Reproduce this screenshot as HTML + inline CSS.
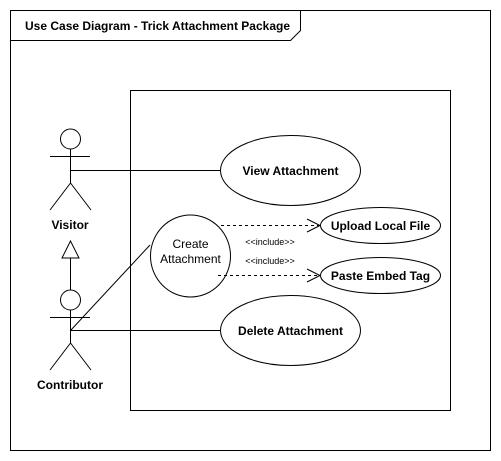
<!DOCTYPE html>
<html><head><style>body{margin:0;background:#fff}svg{display:block}</style></head><body>
<svg width="501" height="461" xmlns="http://www.w3.org/2000/svg" font-family="Liberation Sans, Arial, sans-serif" font-size="12" fill="none" stroke="#000">
<rect x="10.5" y="10.5" width="480" height="440" stroke-width="1"/>
<path d="M10.5 40.5 H290.5 L300.5 30.5 V10.5"/>
<text x="25" y="30" fill="#000" stroke="none" font-weight="bold">Use Case Diagram - Trick Attachment Package</text>
<rect x="130.5" y="90.5" width="320" height="320"/>
<!-- Visitor -->
<circle cx="70.5" cy="139" r="10"/>
<path d="M50 156.5 H90 M70.5 149 V183 L50 210 M70.5 183 L91 210"/>
<text x="70" y="229" text-anchor="middle" font-weight="bold" fill="#000" stroke="none">Visitor</text>
<path d="M70.5 170.5 H220"/>
<!-- generalization -->
<path d="M70.5 241 L62 258 H79 Z" fill="#fff"/>
<path d="M70.5 258 V290"/>
<!-- Contributor -->
<circle cx="70.5" cy="300" r="10"/>
<path d="M50 317.5 H90 M70.5 310 V343 L50 370 M70.5 343 L91 370"/>
<text x="70" y="389" text-anchor="middle" font-weight="bold" fill="#000" stroke="none">Contributor</text>
<path d="M70.5 330.5 H220 M70.5 330.5 L150 245"/>
<!-- use cases -->
<ellipse cx="290.5" cy="170.5" rx="70" ry="35"/>
<text x="290.5" y="175" text-anchor="middle" font-weight="bold" fill="#000" stroke="none">View Attachment</text>
<ellipse cx="290.5" cy="330.5" rx="70" ry="35"/>
<text x="290.5" y="335" text-anchor="middle" font-weight="bold" fill="#000" stroke="none">Delete Attachment</text>
<ellipse cx="190.5" cy="256" rx="40" ry="41"/>
<text x="190.5" y="248" text-anchor="middle" fill="#000" stroke="none">Create</text>
<text x="190.5" y="263" text-anchor="middle" fill="#000" stroke="none">Attachment</text>
<ellipse cx="380.5" cy="225.5" rx="60" ry="18"/>
<text x="380.5" y="230" text-anchor="middle" font-weight="bold" fill="#000" stroke="none">Upload Local File</text>
<ellipse cx="380.5" cy="275.5" rx="60" ry="18"/>
<text x="380.5" y="280" text-anchor="middle" font-weight="bold" fill="#000" stroke="none">Paste Embed Tag</text>
<path d="M221 225.5 H319 M218 275.5 H319" stroke-dasharray="3,3"/>
<path d="M307 219 L320 225.5 L307 232 M307 269 L320 275.5 L307 282"/>
<text x="270" y="245" text-anchor="middle" font-size="9" fill="#000" stroke="none">&lt;&lt;include&gt;&gt;</text>
<text x="270" y="264" text-anchor="middle" font-size="9" fill="#000" stroke="none">&lt;&lt;include&gt;&gt;</text>
</svg>
</body></html>
